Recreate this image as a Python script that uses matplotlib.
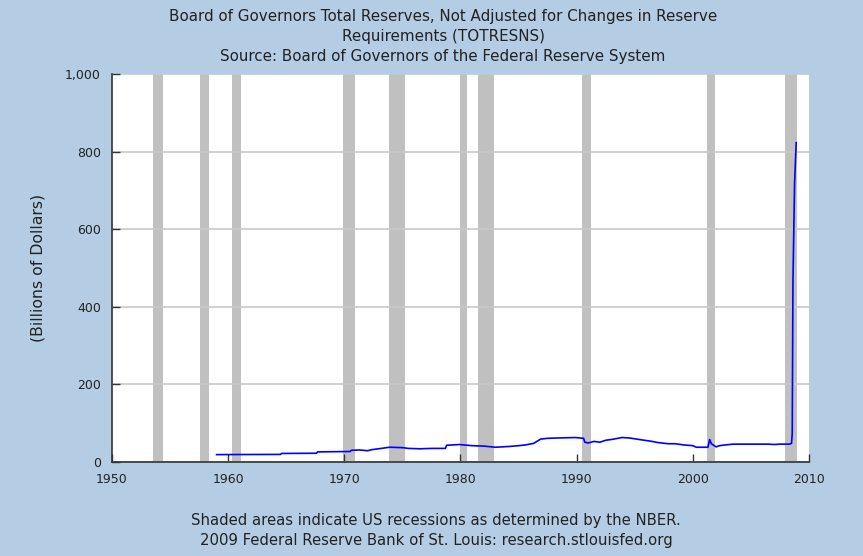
import numpy as np
from matplotlib import pyplot as plt

# recession periods (NBER), start/end as decimal years
rec_start = [1953.55, 1957.6, 1960.3, 1969.9, 1973.85, 1980.0, 1981.5, 1990.5, 2001.2, 2007.9]
rec_end = [1954.4, 1958.35, 1961.1, 1970.9, 1975.2, 1980.55, 1982.9, 1991.2, 2001.9, 2009.0]

# total reserves, billions of dollars
years = [1959.0, 1964.5, 1964.6, 1967.6, 1967.7, 1970.5, 1970.6, 1971.3, 1972.0, 1972.4,
         1972.7, 1973.9, 1975.0, 1975.5, 1976.5, 1977.5, 1978.7, 1978.8, 1979.9, 1981.0,
         1982.0, 1983.0, 1984.2, 1985.0, 1985.6, 1986.3, 1986.9, 1987.5, 1988.5, 1989.9,
         1990.6, 1990.7, 1991.0, 1991.5, 1992.0, 1992.5, 1993.0, 1993.9, 1994.5, 1995.6,
         1996.5, 1997.0, 1997.9, 1998.5, 1999.2, 2000.0, 2000.3, 2001.3, 2001.45, 2001.6,
         2002.0, 2002.3, 2002.8, 2003.5, 2004.5, 2005.5, 2006.5, 2007.0, 2007.5, 2008.3,
         2008.5, 2008.56, 2008.62, 2008.76, 2008.9]
reserves = [19, 19.5, 22, 22.5, 26, 27, 30, 31, 29, 32,
            33, 38, 37, 35, 34, 35, 35, 43, 45, 42,
            41, 38, 40, 42, 44, 48, 59, 61, 62, 63,
            61, 51, 49, 53, 51, 56, 58, 63, 62, 57,
            53, 50, 47, 47, 44, 42, 38, 38, 58, 47,
            39, 42, 44, 46, 46, 46, 46, 45, 46, 46,
            48, 74, 463, 718, 823]

bg = '#B4CDE4'
fig = plt.figure(figsize=(8.63, 5.56), dpi=100, facecolor=bg)
ax = fig.add_axes([0.1298, 0.1691, 0.8076, 0.6978])
ax.set_facecolor('white')

for s, e in zip(rec_start, rec_end):
    ax.axvspan(s, e, color='#C0C0C0', lw=0, zorder=1)

ax.plot(years, reserves, color='#0000FF', lw=1.2, zorder=3)

ax.set_xlim(1950, 2010)
ax.set_ylim(0, 1000)
ax.set_xticks([1950, 1960, 1970, 1980, 1990, 2000, 2010])
ax.set_yticks([0, 200, 400, 600, 800, 1000])
ax.set_yticklabels(['0', '200', '400', '600', '800', '1,000'])
ax.yaxis.grid(True, color='#C8C8C8', lw=1.2, zorder=2)
ax.set_axisbelow(False)
ax.tick_params(direction='in', length=6, width=1, color='#333333',
               labelsize=9, labelcolor='#222222', pad=8)
for sp in ['top', 'right']:
    ax.spines[sp].set_visible(False)
for sp in ['left', 'bottom']:
    ax.spines[sp].set_color('#333333')
    ax.spines[sp].set_linewidth(1.2)
    ax.spines[sp].set_zorder(4)

ax.set_ylabel('(Billions of Dollars)', fontsize=11.3, color='#222222', labelpad=14)

tx = 443 / 863
fig.text(tx, 1 - 17 / 556, 'Board of Governors Total Reserves, Not Adjusted for Changes in Reserve',
         ha='center', va='center', fontsize=10.9, color='#222222')
fig.text(tx, 1 - 37 / 556, 'Requirements (TOTRESNS)',
         ha='center', va='center', fontsize=10.9, color='#222222')
fig.text(tx, 1 - 56 / 556, 'Source: Board of Governors of the Federal Reserve System',
         ha='center', va='center', fontsize=10.9, color='#222222')
fig.text(436 / 863, 1 - 521 / 556, 'Shaded areas indicate US recessions as determined by the NBER.',
         ha='center', va='center', fontsize=10.7, color='#222222')
fig.text(436 / 863, 1 - 541 / 556, '2009 Federal Reserve Bank of St. Louis: research.stlouisfed.org',
         ha='center', va='center', fontsize=10.7, color='#222222')

fig.savefig('out.png', dpi=100, facecolor=bg)
